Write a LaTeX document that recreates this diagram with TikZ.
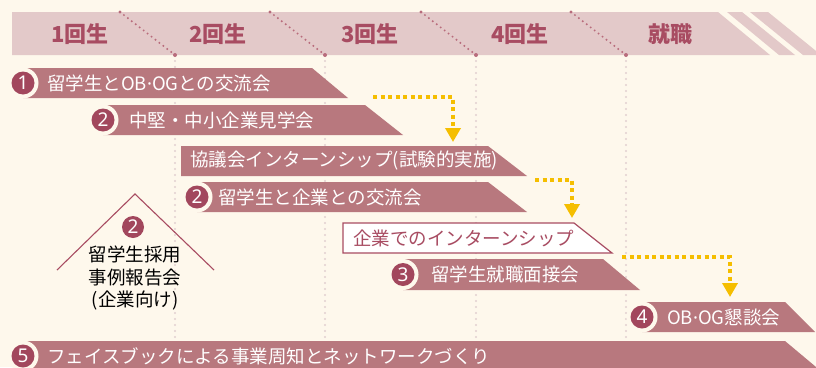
\documentclass[tikz,border=0pt]{standalone}
\usepackage{fontspec}
\setmainfont{Noto Sans CJK JP}
\newfontfamily\latinfont{Noto Sans}
\usetikzlibrary{arrows.meta}
\definecolor{bg}{HTML}{FEF8EC}
\definecolor{hdrband}{HTML}{E3C9C9}
\definecolor{hdrtxt}{HTML}{A84C62}
\definecolor{barc}{HTML}{B8787E}
\definecolor{numc}{HTML}{A2475D}
\definecolor{hdot}{HTML}{B86C7C}
\definecolor{vdot}{HTML}{E2D0D0}
\definecolor{gold}{HTML}{F5BE00}
\definecolor{roofc}{HTML}{A84C62}
\newcommand\mdot{{\latinfont ·}}
\tikzset{
  bartxt/.style={font=\fontsize{18.5}{20}\selectfont, text=white, anchor=west, inner sep=0pt},
  hdr/.style={font=\fontsize{22}{24}\selectfont\bfseries, text=hdrtxt, inner sep=0pt},
  numtxt/.style={font=\latinfont\fontsize{19}{19}\selectfont, text=white, inner sep=0pt},
  vdots/.style={draw=vdot, line width=2.4pt, line cap=round, dash pattern=on 0pt off 6pt},
  hdots/.style={draw=hdot, line width=2.2pt, line cap=round, dash pattern=on 0pt off 5pt},
  goldarrow/.style={draw=gold, line width=4pt, dash pattern=on 4pt off 3.5pt, -{Triangle[width=15pt,length=14pt]}},
  rbar/.style={fill=barc},
  wbar/.style={fill=white, draw=roofc, line width=1.2pt},
}
\newcommand\numcirc[4]{%
  \fill[bg] (#2,#3) circle (15.5);
  \fill[numc] (#2,#3) circle (11.5);
  \node[numtxt] (#1) at (#2,#3) {#4};}
\begin{document}
\begin{tikzpicture}[x=1pt,y=-1pt]
\useasboundingbox (0,0) rectangle (816,367);
\fill[bg] (0,0) rectangle (816,367);
% header band
\fill[hdrband] (12,12) -- (718,12) -- (770,55) -- (12,55) -- cycle;
\fill[hdrband] (727,12) -- (742,12) -- (795,55) -- (779,55) -- cycle;
\fill[hdrband] (750,12) -- (768,12) -- (821,55) -- (803,55) -- cycle;
% vertical dotted grid lines
\foreach \x in {175,325,476,626} {
  \draw[vdots] (\x,61) -- (\x,340);
}
% header diagonal dotted lines
\foreach \x in {120,270,421,571} {
  \draw[hdots] (\x,12) -- (\x+55,55);
  \fill[hdot] (\x,12) circle (1.6);
  \fill[hdot] (\x+55,55) circle (2);
}
\node[hdr] (y1) at (80,34) {1回生};
\node[hdr] (y2) at (218,34) {2回生};
\node[hdr] (y3) at (370,34) {3回生};
\node[hdr] (y4) at (520,34) {4回生};
\node[hdr] (job) at (670,34) {就職};
% bar 1
\fill[rbar] (23,68) -- (312,68) -- (348,98) -- (23,98) -- cycle;
\numcirc{n1}{23}{83}{1}
\node[bartxt] (t1) at (47,83) {留学生とOB\mdot OGとの交流会};
% bar 2
\fill[rbar] (103,105) -- (365,105) -- (403,135) -- (103,135) -- cycle;
\numcirc{n2}{103}{120}{2}
\node[bartxt] (t2) at (129,120) {中堅・中小企業見学会};
% bar 3
\fill[rbar] (181,146) -- (488,146) -- (527,176) -- (181,176) -- cycle;
\node[bartxt] (t3) at (190,161) {協議会インターンシップ(試験的実施)};
% bar 4
\fill[rbar] (197,182) -- (488,182) -- (527,212) -- (197,212) -- cycle;
\numcirc{n4}{197}{197}{2}
\node[bartxt] (t4) at (218,197) {留学生と企業との交流会};
% white box
\filldraw[wbar] (343,223) -- (574,223) -- (612,253) -- (343,253) -- cycle;
\node[bartxt, text=roofc] (t5) at (353,238) {企業でのインターンシップ};
% bar 3 (interview)
\fill[rbar] (403,259) -- (603,259) -- (640,290) -- (403,290) -- cycle;
\numcirc{n6}{403}{274.5}{3}
\node[bartxt] (t6) at (431,274.5) {留学生就職面接会};
% bar OB OG
\fill[rbar] (642,302) -- (785,302) -- (815,332) -- (642,332) -- cycle;
\numcirc{n7}{642}{317}{4}
\node[bartxt] (t7) at (667,317) {OB\mdot OG懇談会};
% bar 5
\fill[rbar] (23,341) -- (785,341) -- (822,372) -- (23,372) -- cycle;
\numcirc{n8}{23}{356}{5}
\node[bartxt] (t8) at (47,356) {フェイスブックによる事業周知とネットワークづくり};
% roof
\coordinate (rl) at (57,270);
\coordinate (rt) at (135,194);
\coordinate (rr) at (214,270);
\draw[roofc, line width=1.1pt] (rl) -- (rt) -- (rr);
\fill[numc] (133,227) circle (11);
\node[numtxt] (rn) at (133,227) {2};
\node[font=\fontsize{18.5}{22.5}\selectfont, align=center, text=black, inner sep=0pt] (roof) at (135,278) {留学生採用\\事例報告会\\(企業向け)};
% gold arrows
\coordinate (a1s) at (373,97);
\coordinate (a1e) at (453,142);
\coordinate (a2s) at (535,180);
\coordinate (a2e) at (572,218);
\coordinate (a3s) at (622,257);
\coordinate (a3e) at (730,297);
\draw[goldarrow] (a1s) -| (a1e);
\draw[goldarrow] (a2s) -| (a2e);
\draw[goldarrow] (a3s) -| (a3e);
\end{tikzpicture}
\end{document}
